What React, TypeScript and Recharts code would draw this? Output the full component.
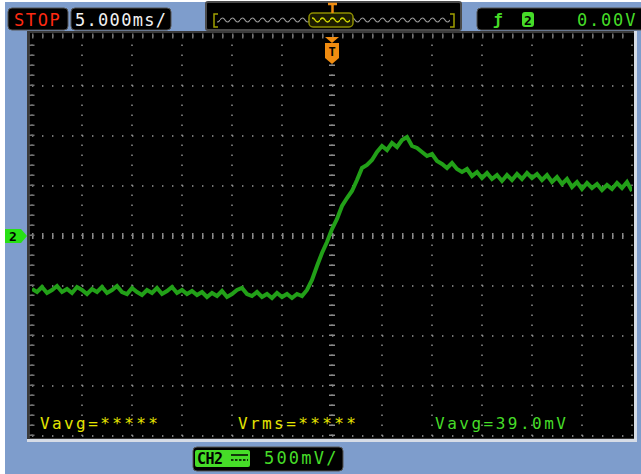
import React from 'react';
import { LineChart, Line, XAxis, YAxis, ReferenceLine } from 'recharts';

// time (ms) relative to trigger, 5 ms/div
const timeMs = [
  -30, -29.5, -29, -28.5, -28, -27.5, -27, -26.5, -26, -25.5, -25, -24.5, -24, -23.5, -23, -22.5, -22, -21.5, -21, -20.5,
  -20, -19.5, -19, -18.5, -18, -17.5, -17, -16.5, -16, -15.5, -15, -14.5, -14, -13.5, -13, -12.5, -12, -11.5, -11, -10.5,
  -10, -9.5, -9, -8.5, -8, -7.5, -7, -6.5, -6, -5.5, -5, -4.5, -4, -3.5, -3, -2.5, -2, -1.5, -1, -0.5,
  0, 0.5, 1, 1.5, 2, 2.5, 3, 3.5, 4, 4.5, 5, 5.5, 6, 6.5, 7, 7.5, 8, 8.5, 9, 9.5,
  10, 10.5, 11, 11.5, 12, 12.5, 13, 13.5, 14, 14.5, 15, 15.5, 16, 16.5, 17, 17.5, 18, 18.5, 19, 19.5,
  20, 20.5, 21, 21.5, 22, 22.5, 23, 23.5, 24, 24.5, 25, 25.5, 26, 26.5, 27, 27.5, 28, 28.5, 29, 29.5, 30,
];

// CH2 voltage (mV), 500 mV/div
const ch2mV = [
  -530, -560, -510, -570, -540, -500, -560, -530, -570, -510, -540, -580, -530, -560, -510, -570, -540, -500, -560, -580,
  -520, -560, -590, -540, -570, -520, -580, -550, -510, -570, -540, -580, -550, -590, -560, -610, -570, -600, -550, -610,
  -580, -540, -520, -580, -600, -560, -610, -580, -620, -570, -610, -580, -620, -580, -600, -540, -440, -300, -170, -60,
  70, 170, 300, 380, 450, 560, 680, 710, 760, 840, 900, 860, 930, 890, 960, 990, 900, 880, 840, 800,
  820, 750, 720, 680, 730, 670, 640, 670, 600, 640, 580, 630, 570, 610, 550, 610, 560, 620, 570, 630,
  580, 620, 560, 610, 540, 590, 520, 570, 490, 540, 470, 530, 480, 520, 460, 510, 470, 530, 480, 540, 450,
];

const xGridMs = [-30, -25, -20, -15, -10, -5, 0, 5, 10, 15, 20, 25, 30];
const yGridMv = [-2000, -1500, -1000, -500, 0, 500, 1000, 1500, 2000];

const runLabel = 'STOP';
const timebaseLabel = '5.000ms/';
const triggerLevelLabel = '0.00V';
const channelLabel = 'CH2';
const scaleLabel = '500mV/';
const measureLabels = ['Vavg=*****', 'Vrms=*****', 'Vavg=39.0mV'];

const data = timeMs.map((t, i) => ({ t, v: ch2mV[i] }));

const MONO = '"DejaVu Sans Mono", "Liberation Mono", monospace';
const GREEN_TXT = '#46dc28';
const YELLOW_TXT = '#e4e400';
const TRACE = '#22a018';

export default function App() {
  return (
    <div style={{ position: 'absolute', left: 0, top: 0, width: 641, height: 474, overflow: 'hidden', background: '#7e9dcc' }}>
      {/* page strips */}
      <div style={{ position: 'absolute', left: 0, top: 0, width: 5, height: 474, background: '#ffffff' }} />
      <div style={{ position: 'absolute', left: 0, top: 0, width: 641, height: 2, background: '#ffffff' }} />
      {/* graticule frame */}
      <div style={{ position: 'absolute', left: 27, top: 31, width: 610, height: 411, background: '#d6dce6' }} />
      <div style={{ position: 'absolute', left: 27, top: 31, width: 607, height: 408, background: '#3a3a3a' }} />
      <div style={{ position: 'absolute', left: 30, top: 33, width: 604, height: 405, background: '#000000' }} />

      <div style={{ position: 'absolute', left: 0, top: 0 }}>
        <LineChart width={641} height={474} data={data} margin={{ top: 36, right: 9, bottom: 38, left: 32 }}>
          <XAxis dataKey="t" type="number" domain={[-30, 30]} hide allowDataOverflow />
          <YAxis type="number" domain={[-2000, 2000]} hide allowDataOverflow />
          {xGridMs.map((x) => (
            <ReferenceLine key={'gx' + x} x={x} stroke="#999999" strokeWidth={1.4} strokeDasharray="1.4 8.6" />
          ))}
          {yGridMv.map((y) => (
            <ReferenceLine key={'gy' + y} y={y} stroke="#999999" strokeWidth={1.4} strokeDasharray="1.4 8.6" />
          ))}
          <ReferenceLine y={0} stroke="#8a8a8a" strokeWidth={6} strokeDasharray="1.5 8.5" />
          <ReferenceLine x={0} stroke="#8a8a8a" strokeWidth={6} strokeDasharray="1.5 8.5" />
          <ReferenceLine y={2000} stroke="#707070" strokeWidth={5} strokeDasharray="1.5 8.5" />
          <ReferenceLine x={-30} stroke="#707070" strokeWidth={5} strokeDasharray="1.5 8.5" />
          <Line
            type="linear"
            dataKey="v"
            stroke={TRACE}
            strokeWidth={4}
            strokeLinejoin="miter"
            dot={false}
            activeDot={false}
            isAnimationActive={false}
          />
        </LineChart>
      </div>

      {/* overlay decorations */}
      <svg width={641} height={474} style={{ position: 'absolute', left: 0, top: 0 }}>
        <defs>
          <pattern id="waveGray" x="0" y="15" width="10" height="10" patternUnits="userSpaceOnUse">
            <path d="M0 5 Q2.5 1 5 5 T10 5" stroke="#9a9a9a" strokeWidth="1.2" fill="none" />
          </pattern>
          <pattern id="waveYel" x="0" y="15" width="10" height="10" patternUnits="userSpaceOnUse">
            <path d="M0 5 Q2.5 1 5 5 T10 5" stroke="#d4dc00" strokeWidth="1.4" fill="none" />
          </pattern>
        </defs>

        {/* STOP */}
        <rect x={8} y={8} width={60} height={22} rx={4} fill="#000" stroke="#555" />
        <text x={14} y={26} fontFamily={MONO} fontSize={17} letterSpacing={1.6} fill="#ff2a12">{runLabel}</text>
        {/* timebase */}
        <rect x={71} y={8} width={100} height={22} rx={4} fill="#000" stroke="#555" />
        <text x={75} y={26} fontFamily={MONO} fontSize={17} letterSpacing={1.3} fill="#f2f2f2">{timebaseLabel}</text>

        {/* memory overview */}
        <rect x={206} y={2} width={255} height={28} rx={2} fill="#000" stroke="#4a4a4a" strokeWidth={2} />
        <path d="M218 14 H214 V27 H218" stroke="#a0a000" strokeWidth={1.5} fill="none" />
        <path d="M450 14 H454 V27 H450" stroke="#a0a000" strokeWidth={1.5} fill="none" />
        <rect x={217} y={15} width={233} height={10} fill="url(#waveGray)" />
        <rect x={309} y={13} width={44} height={14} rx={4} fill="#1c1c00" stroke="#8e8e00" strokeWidth={1.5} />
        <rect x={312} y={15} width={38} height={10} fill="url(#waveYel)" />
        <path d="M328 4 H337 M332.5 4 V13" stroke="#f08c10" strokeWidth={2.5} />

        {/* trigger */}
        <rect x={477} y={8} width={170} height={22} rx={4} fill="#000" stroke="#555" />
        <text x={493} y={25} fontFamily={MONO} fontSize={16} fontWeight="bold" fill={GREEN_TXT}>ƒ</text>
        <rect x={522} y={12} width={12} height={15} rx={3} fill={GREEN_TXT} />
        <text x={524} y={25} fontFamily={MONO} fontSize={13} fontWeight="bold" fill="#000">2</text>
        <text x={577} y={26} fontFamily={MONO} fontSize={17} letterSpacing={1.8} fill={GREEN_TXT}>{triggerLevelLabel}</text>

        {/* trigger position marker */}
        <polygon points="325,37 339,37 332,43" fill="#f08c10" />
        <polygon points="325,43 339,43 339,58 332,64 325,58" fill="#f08c10" />
        <text x={332} y={56} textAnchor="middle" fontFamily={MONO} fontSize={12} fontWeight="bold" fill="#000">T</text>

        {/* channel 2 ground marker */}
        <polygon points="5,229 21,229 27,236 21,243 5,243" fill="#28e014" />
        <text x={9} y={241} fontFamily={MONO} fontSize={13} fontWeight="bold" fill="#000">2</text>

        {/* measurements */}
        <text x={40} y={429} fontFamily={MONO} fontSize={16} letterSpacing={2.4} fill={YELLOW_TXT}>{measureLabels[0]}</text>
        <text x={238} y={429} fontFamily={MONO} fontSize={16} letterSpacing={2.4} fill={YELLOW_TXT}>{measureLabels[1]}</text>
        <text x={435} y={429} fontFamily={MONO} fontSize={16} letterSpacing={2.5} fill={GREEN_TXT}>{measureLabels[2]}</text>

        {/* channel scale */}
        <rect x={193} y={447} width={150} height={24} rx={4} fill="#000" stroke="#555" />
        <rect x={195} y={450} width={55} height={17} rx={2} fill={GREEN_TXT} />
        <text x={197} y={464} fontFamily={MONO} fontSize={15} fontWeight="bold" letterSpacing={-0.5} fill="#000">{channelLabel}</text>
        <path d="M231 455 H248" stroke="#000" strokeWidth={1.5} />
        <path d="M231 460 H248" stroke="#000" strokeWidth={1.5} strokeDasharray="2.5 1.5" />
        <text x={264} y={464} fontFamily={MONO} fontSize={17} letterSpacing={2.2} fill={GREEN_TXT}>{scaleLabel}</text>
      </svg>
    </div>
  );
}
